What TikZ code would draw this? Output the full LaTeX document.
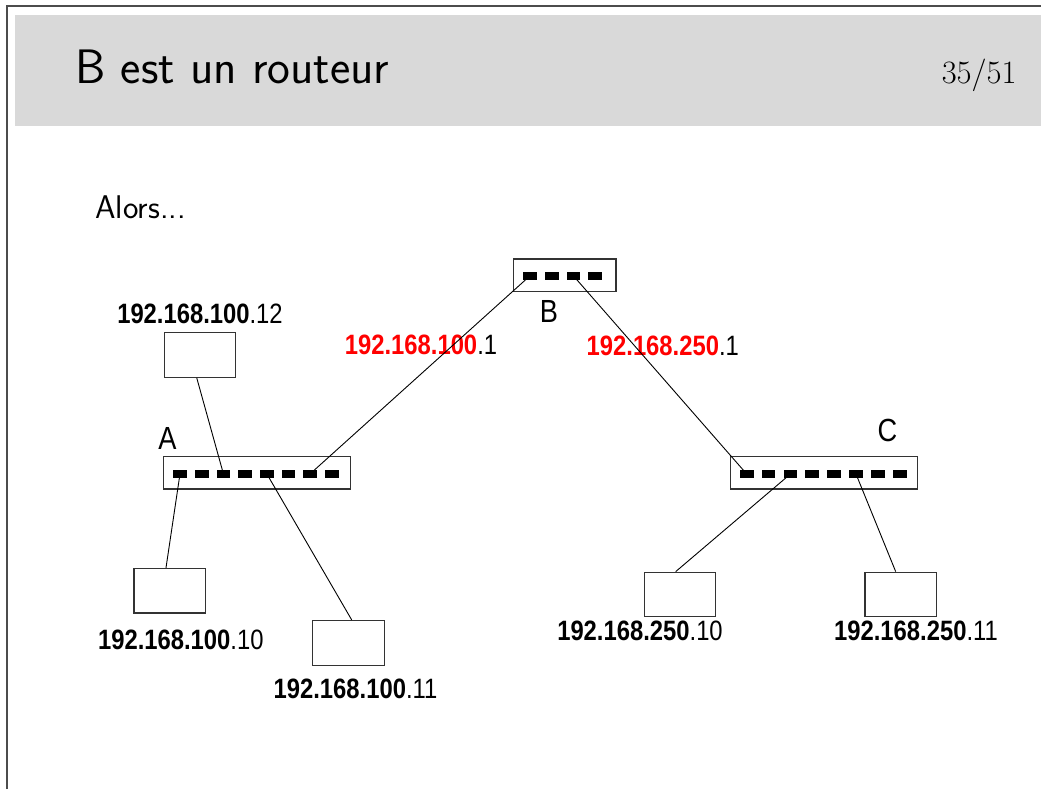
\documentclass[tikz,border=0pt]{standalone}
\usepackage{fontspec}
\newfontfamily\figfont[FakeStretch=0.85]{Liberation Sans}
\usetikzlibrary{positioning, calc}

\begin{document}
\begin{tikzpicture}[x=0.5pt, y=-0.5pt,
		% Define styles
		hubbox/.style={rectangle, draw=black!80, line width=0.6pt, minimum height=16.2pt, inner sep=0pt},
		portbox/.style={rectangle, fill=black, minimum width=6.8pt, minimum height=4.3pt, inner sep=0pt},
		hostbox/.style={rectangle, draw=black!80, line width=0.6pt, fill=white, minimum width=35.8pt, minimum height=22.3pt, inner sep=0pt},
		iplabel/.style={font=\figfont\fontsize{14}{16}\selectfont, inner sep=0pt},
		hublabel/.style={font=\figfont\fontsize{16}{18}\selectfont, inner sep=0pt},
		link/.style={draw=black, line width=0.45pt}
		]
		\useasboundingbox (0,0) rectangle (1041,789);
		
		% Slide frame and title bar
		\fill[black!15] (15,15) rectangle (1041,126);
		\draw[black!70, line width=0.8pt] (7,789) -- (7,6) -- (1041,6);
		\node[anchor=base west, inner sep=0pt, font=\sffamily\fontsize{24.2}{28}\selectfont] (title) at (75,83) {B est un routeur};
		\node[anchor=base east, inner sep=0pt, font=\fontsize{16.3}{18}\selectfont] (pagenum) at (1017,83) {35/51};
		\node[anchor=base west, inner sep=0pt, font=\sffamily\fontsize{16.4}{18}\selectfont] (alors) at (95,218) {Alors...};
		
		% Hubs
		\node[hubbox, minimum width=93.4pt] (hubA) at (256.7,472.8) {};
		\node[hubbox, minimum width=51.3pt] (hubB) at (564.7,275.2) {};
		\node[hubbox, minimum width=93.5pt] (hubC) at (823.8,472.8) {};
		\node[hublabel] (labA) at (167.5,438.3) {A};
		\node[hublabel] (labB) at (549,311) {B};
		\node[hublabel] (labC) at (887.5,430.5) {C};
		
		% Ports
		\foreach \i in {1,...,8}
			\node[portbox] (portA\i) at ({180+(\i-1)*21.7},473.8) {};
		\foreach \i in {1,...,4}
			\node[portbox] (portB\i) at ({530+(\i-1)*21.7},275.8) {};
		\foreach \i in {1,...,8}
			\node[portbox] (portC\i) at ({746.7+(\i-1)*21.86},474) {};
		
		% Hosts
		\node[hostbox] (pcA12) at (200,354.8) {};
		\node[hostbox] (pcA10) at (169.8,590.7) {};
		\node[hostbox] (pcA11) at (348.3,642.8) {};
		\node[hostbox] (pcC10) at (680,594.5) {};
		\node[hostbox] (pcC11) at (900.8,594.5) {};
		
		% Addresses
		\node[iplabel] (ipA12) at (200,313.7) {\textbf{192.168.100}.12};
		\node[iplabel] (ipA10) at (180.8,640) {\textbf{192.168.100}.10};
		\node[iplabel] (ipA11) at (355.5,688.5) {\textbf{192.168.100}.11};
		\node[iplabel] (ipC10) at (640,630.5) {\textbf{192.168.250}.10};
		\node[iplabel] (ipC11) at (916,630.5) {\textbf{192.168.250}.11};
		\node[iplabel] (gwA) at (421,345) {\textcolor{red}{\textbf{192.168.100}}.1};
		\node[iplabel] (gwC) at (662.8,345.5) {\textcolor{red}{\textbf{192.168.250}}.1};
		
		% Links
		\draw[link] (portA3.center) -- ($(pcA12.south)+(-3.3,0)$);
		\draw[link] (portA1.center) -- ($(pcA10.north)+(-3.8,0)$);
		\draw[link] (portA5.center) -- ($(pcA11.north)+(3.4,0)$);
		\draw[link] (portA7.center) -- (portB1.center);
		\draw[link] (portB3.center) -- (portC1.center);
		\draw[link] (portC3.center) -- ($(pcC10.north)+(-4.3,0)$);
		\draw[link] (portC6.center) -- ($(pcC11.north)+(-5.1,0)$);
		
	\end{tikzpicture}
\end{document}
